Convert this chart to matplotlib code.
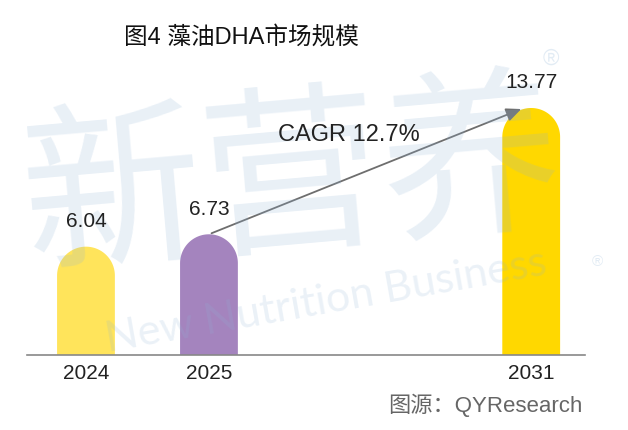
import numpy as np
import matplotlib.pyplot as plt

plt.rcParams['font.family'] = ['Liberation Sans', 'Noto Sans CJK SC', 'DejaVu Sans']

# dados
anos = ['2024', '2025', '2031']
valores = [6.04, 6.73, 13.77]
cores = ['#FFE45B', '#A484BE', '#FFD800']
titulo = '图4 藻油DHA市场规模'
cagr = 'CAGR 12.7%'
fonte = '图源：QYResearch'

# posicoes das colunas (espacamento do original)
xpos = [0, 1, 3.62]
largura = 0.47

fig = plt.figure(figsize=(6.28, 4.30), dpi=100)
ax = fig.add_axes([0, 0, 1, 1])
ax.set_xlim(-0.699, 4.407)
ax.set_ylim(-4.18, 19.79)
ax.axis('off')

# px -> unidades de dados
px_y = 19.79 + 4.18
r_y = 29 / 430 * px_y

# colunas em forma de capsula
t = np.linspace(0, np.pi, 60)
for x, v, c, ano in zip(xpos, valores, cores, anos):
    top = v - r_y
    xs = np.concatenate([[x - largura / 2], x + largura / 2 * np.cos(t[::-1]), [x + largura / 2]])
    ys = np.concatenate([[0], top + r_y * np.sin(t[::-1]), [0]])
    ax.fill(xs, ys, color=c, lw=0, zorder=2)
    ax.annotate(f'{v:.2f}', (x, v), xytext=(0, 18), textcoords='offset points',
                ha='center', va='center', fontsize=15, color='#222222', zorder=5)
    ax.annotate(ano, (x, 0), xytext=(0, -13), textcoords='offset points',
                ha='center', va='center', fontsize=15, color='#222222', zorder=5)

# linha base
ax.plot([-0.480, 4.06], [0, 0], color='#888888', lw=1.2, zorder=3)

# seta CAGR
ax.annotate('', xy=(xpos[2] - 0.06, valores[2]), xytext=(xpos[1], valores[1]),
            arrowprops=dict(arrowstyle='-|>,head_length=0.9,head_width=0.4',
                            color='#6e6e6e', lw=1.3), zorder=4)
ax.text(1.56, 12.26, cagr, ha='left', va='center', fontsize=17, color='#222222', zorder=5)

# marca d'agua
ax.text(1.68, 9.3, '新营养', ha='center', va='center', fontsize=130, color='#8fb4d6',
        alpha=0.2, rotation=5, zorder=4)
ax.text(1.95, 3.0, 'New Nutrition Business', ha='center', va='center', fontsize=31,
        color='#8fb4d6', alpha=0.18, rotation=10, zorder=4, family=['Lato', 'DejaVu Sans'])
ax.text(3.78, 16.5, '®', ha='center', va='center', fontsize=16, color='#8fb4d6', alpha=0.25)
ax.text(4.16, 5.2, '®', ha='center', va='center', fontsize=11, color='#8fb4d6', alpha=0.25)

# titulo e fonte
fig.text(241 / 628, 1 - 37 / 430, titulo, ha='center', va='center', fontsize=17,
         color='#111111', fontweight='medium')
fig.text(583 / 628, 1 - 405 / 430, fonte, ha='right', va='center', fontsize=16, color='#666666')

plt.savefig('out.png', dpi=100)
